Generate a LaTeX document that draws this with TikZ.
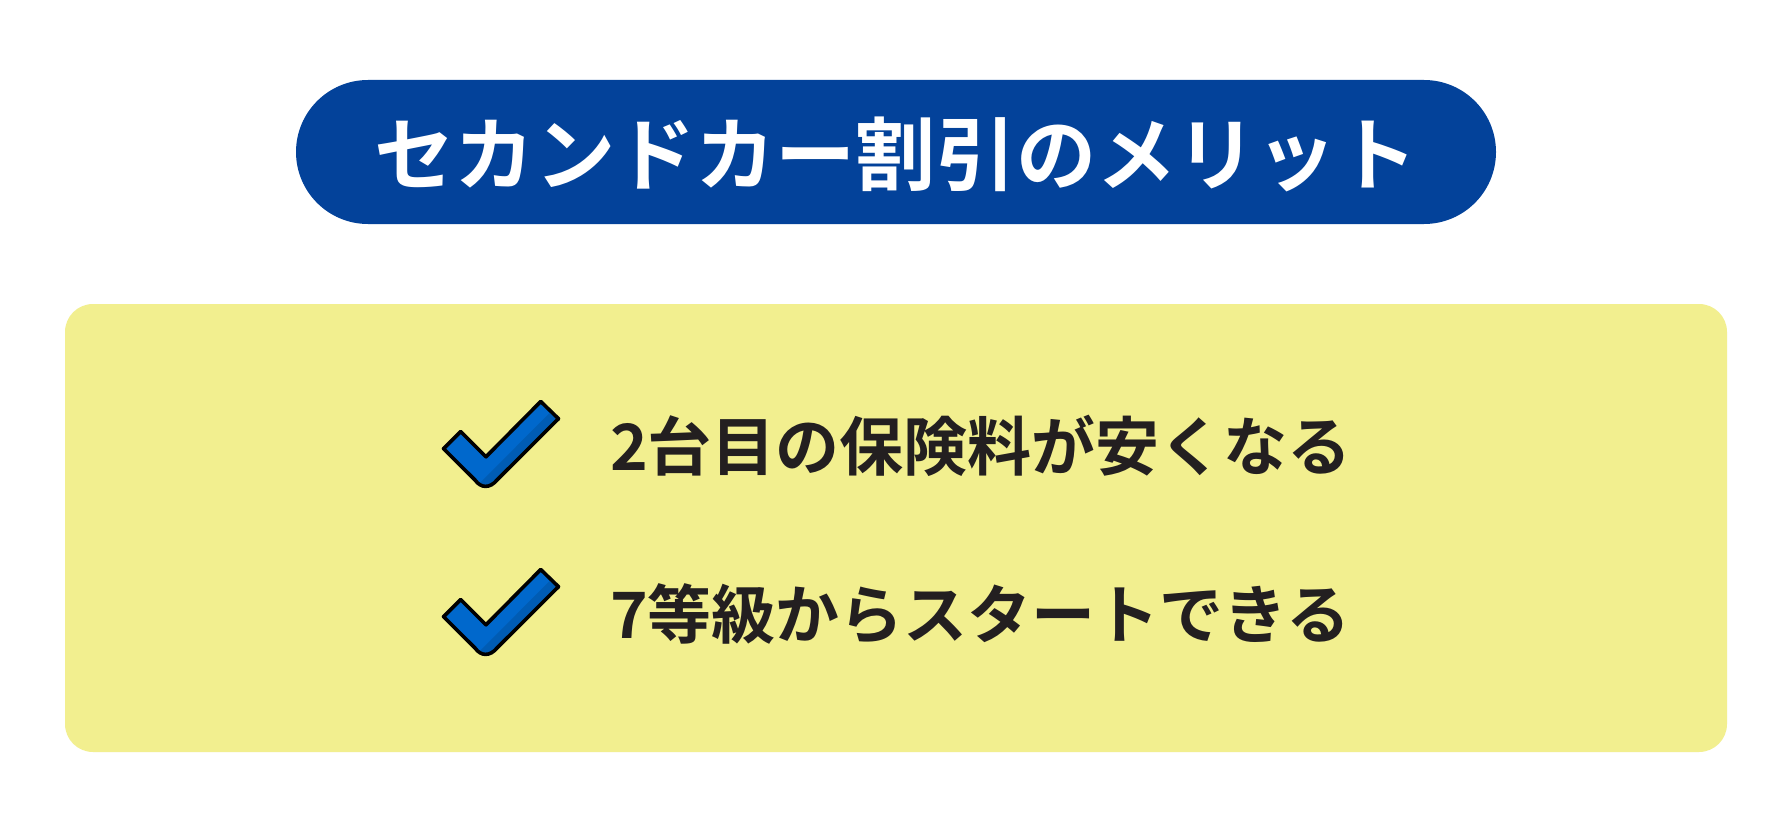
\documentclass[tikz,border=0pt]{standalone}
\usepackage{fontspec}
\setmainfont{Noto Sans CJK JP}[BoldFont={Noto Sans CJK JP Bold}]
\newfontfamily\jpb{Noto Sans CJK JP Bold}
\definecolor{pillblue}{HTML}{03429A}
\definecolor{panelyellow}{HTML}{F2EF8F}
\definecolor{checkblue}{HTML}{0068CC}
\definecolor{checkshade}{HTML}{005CB4}
\definecolor{inktext}{HTML}{231F20}
\tikzset{
  titletext/.style={text=white,inner sep=0pt,font=\jpb\fontsize{80.2}{90}\selectfont},
  itemtext/.style={text=inktext,inner sep=0pt,anchor=west,font=\jpb\fontsize{64}{72}\selectfont},
  checkout/.style={draw=black,line width=3.6pt,line join=round},
}
\newcommand{\checkmarkicon}[1]{%
  \begin{scope}[yshift=-#1pt]
    \path[fill=checkblue] (540.7,401.5) -- (558.5,418.7) -- (497,480) .. controls (490,488.5) and (481,488.5) .. (475,480) -- (443.5,448.7) -- (460.7,431.5) -- (486,456.8) -- cycle;
    \path[fill=checkshade] (551,411.5) -- (558.5,418.7) -- (497,480) .. controls (491,487) and (484,487.5) .. (479,484) -- cycle;
    \draw[checkout] (540.7,401.5) -- (558.5,418.7) -- (497,480) .. controls (490,488.5) and (481,488.5) .. (475,480) -- (443.5,448.7) -- (460.7,431.5) -- (486,456.8) -- cycle;
  \end{scope}}
\begin{document}
\begin{tikzpicture}[x=1pt,y=-1pt]
\useasboundingbox (0,0) rectangle (1792,832);
\fill[white] (0,0) rectangle (1792,832);
\node[fill=pillblue,rounded corners=72pt,minimum width=1200pt,minimum height=144pt,inner sep=0pt] (pill) at (896,152) {};
\node[titletext] (title) at (896,154) {セカンドカー割引のメリット};
\node[fill=panelyellow,rounded corners=28pt,minimum width=1662pt,minimum height=448pt,inner sep=0pt] (panel) at (896,528) {};
\checkmarkicon{0}
\checkmarkicon{168}
\node[itemtext] (itemone) at (610,446) {2台目の保険料が安くなる};
\node[itemtext] (itemtwo) at (610,614) {7等級からスタートできる};
\end{tikzpicture}
\end{document}
